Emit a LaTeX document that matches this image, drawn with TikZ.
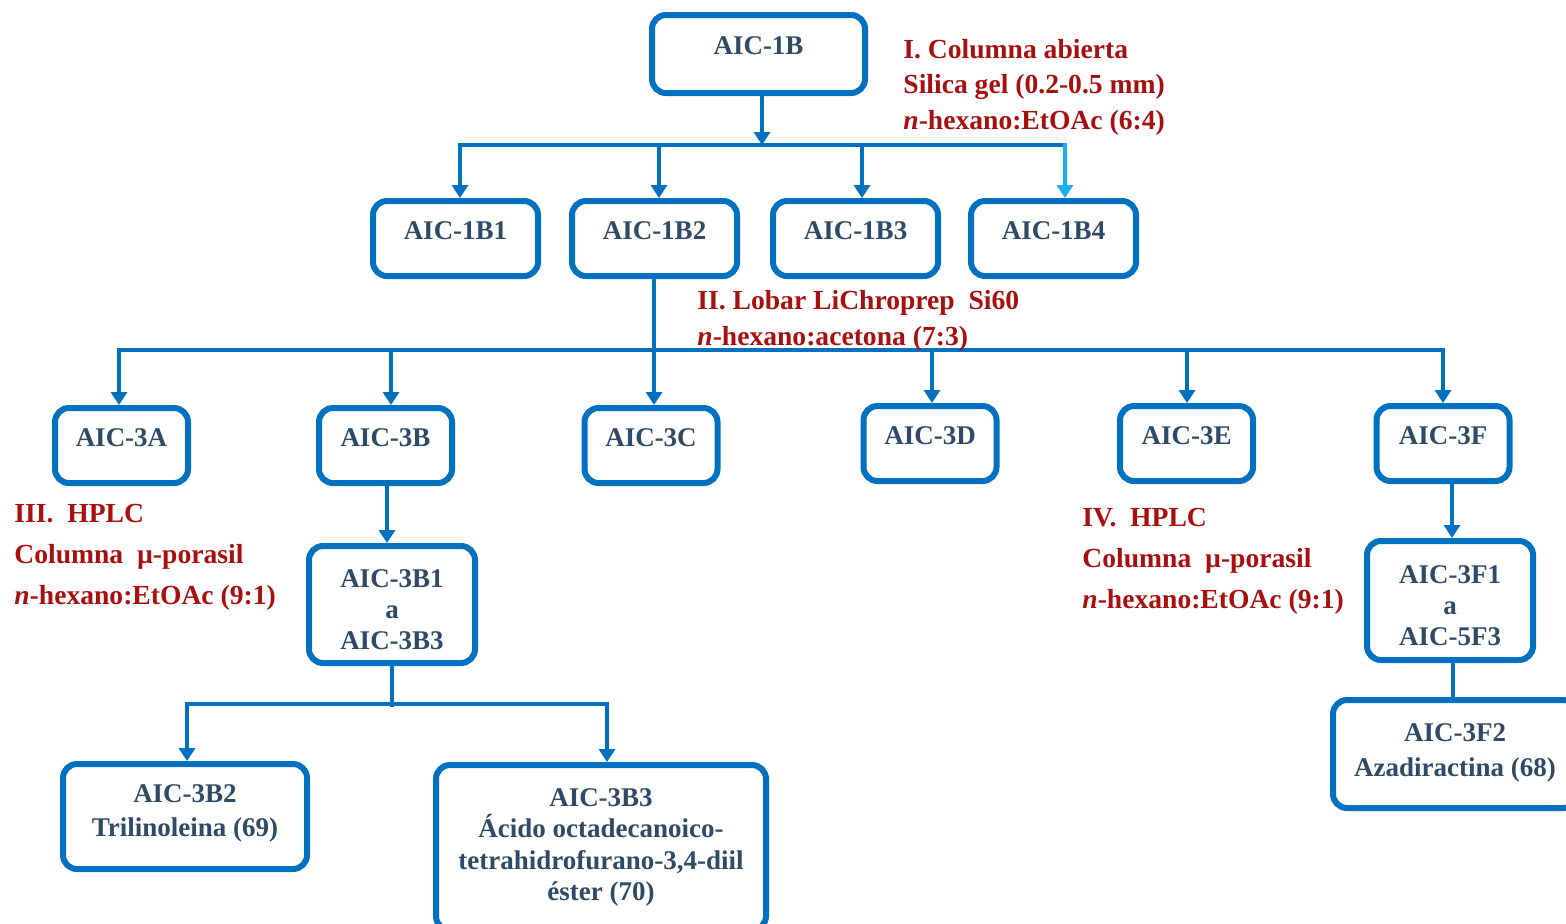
\documentclass[tikz,border=0pt]{standalone}
\usepackage{fontspec}
\setmainfont{Liberation Serif}
\usetikzlibrary{arrows.meta}

\definecolor{boxblue}{HTML}{0070C0}
\definecolor{lightblue}{HTML}{1AB0F0}
\definecolor{txtslate}{HTML}{2E4A66}
\definecolor{stepred}{HTML}{A81010}

\tikzset{
  box/.style={draw=boxblue, line width=3pt, rounded corners=7pt, inner sep=0pt, fill=white},
  boxtext/.style={text=txtslate, font=\bfseries\fontsize{13.5}{16}\selectfont, align=center, inner sep=0pt},
  note/.style={text=stepred, align=left, anchor=west, inner sep=0pt},
  link/.style={draw=boxblue, line width=2pt, line cap=rect},
  arr/.style={link, -{Triangle[width=8pt,length=6.5pt]}},
}

\begin{document}
\begin{tikzpicture}[x=0.5pt, y=-0.5pt]
\useasboundingbox (0,0) rectangle (1566,923);

% ---- top sample ----
\node[box, minimum width=106.5pt, minimum height=39pt] (n1B) at (758.5,54) {};
\node[boxtext] (t1B) at (758.5,46) {AIC-1B};

% ---- first fractionation ----
\foreach \nm/\cx in {1B1/455.5, 1B2/654.5, 1B3/855.5, 1B4/1053.5} {
  \node[box, minimum width=82.5pt, minimum height=37.5pt] (n\nm) at (\cx,238.5) {};
  \node[boxtext] (t\nm) at (\cx,231) {AIC-\nm};
}

% ---- second fractionation ----
\foreach \nm/\cx/\cy/\ty in {3A/121.5/445.5/438, 3B/385.5/445.5/438, 3C/651/445.5/438,
                             3D/930/443.5/436, 3E/1186.5/443.5/436, 3F/1443/443.5/436} {
  \node[box, minimum width=66.5pt, minimum height=37.5pt] (n\nm) at (\cx,\cy) {};
  \node[boxtext] (t\nm) at (\cx,\ty) {AIC-\nm};
}

% ---- HPLC subfractions ----
\node[box, minimum width=83pt, minimum height=58.5pt] (n3B1) at (392,604.5) {};
\node[boxtext, font=\bfseries\fontsize{13.5}{15.5}\selectfont] (t3B1) at (392,610) {AIC-3B1\\a\\AIC-3B3};

\node[box, minimum width=83pt, minimum height=59.5pt] (n3F1) at (1450,600.5) {};
\node[boxtext, font=\bfseries\fontsize{13.5}{15.5}\selectfont] (t3F1) at (1450,605.5) {AIC-3F1\\a\\AIC-5F3};

% ---- isolated compounds ----
\node[box, minimum width=122pt, minimum height=52.5pt] (n3B2) at (185,816.5) {};
\node[boxtext, font=\bfseries\fontsize{13.5}{17}\selectfont] (t3B2) at (185,813.5) {AIC-3B2\\Trilinoleina (69)};

\node[box, minimum width=165pt, minimum height=82.5pt] (n3B3) at (601,847.5) {};
\node[boxtext, font=\bfseries\fontsize{13.5}{15.8}\selectfont] (t3B3) at (601,847.5) {AIC-3B3\\Ácido octadecanoico-\\tetrahidrofurano-3,4-diil\\éster (70)};

\node[box, minimum width=122pt, minimum height=54pt] (n3F2) at (1455,754) {};
\node[boxtext, font=\bfseries\fontsize{13.5}{17.5}\selectfont] (t3F2) at (1455,752.5) {AIC-3F2\\Azadiractina (68)};

% ---- connectors: AIC-1B ----
\coordinate (j1) at (762,145);
\coordinate (b1a) at (460,145);
\coordinate (b1b) at (659,145);
\coordinate (b1c) at (862,145);
\coordinate (b1d) at (1065,145);
\draw[arr] (n1B.south -| j1) -- (j1);
\draw[link] (b1a) -- (b1d);
\draw[arr] (b1a) -- (b1a |- n1B1.north);
\draw[arr] (b1b) -- (b1b |- n1B2.north);
\draw[arr] (b1c) -- (b1c |- n1B3.north);
\draw[arr, draw=lightblue] (b1d) -- (b1d |- n1B4.north);

% ---- connectors: AIC-1B2 ----
\coordinate (j2) at (654,350);
\coordinate (b2a) at (119,350);
\coordinate (b2b) at (391,350);
\coordinate (b2d) at (932,350);
\coordinate (b2e) at (1187,350);
\coordinate (b2f) at (1443,350);
\draw[link] (b2a) -- (b2f);
\draw[arr] (n1B2.south -| j2) -- (n3C.north -| j2);
\draw[arr] (b2a) -- (b2a |- n3A.north);
\draw[arr] (b2b) -- (b2b |- n3B.north);
\draw[arr] (b2d) -- (b2d |- n3D.north);
\draw[arr] (b2e) -- (b2e |- n3E.north);
\draw[arr] (b2f) -- (b2f |- n3F.north);

% ---- connectors: AIC-3B ----
\coordinate (k1) at (387,500);
\draw[arr] (n3B.south -| k1) -- (n3B1.north -| k1);
\coordinate (j3) at (392,705);
\coordinate (b3a) at (187,704);
\coordinate (b3b) at (607,704);
\draw[link] (n3B1.south -| j3) -- (j3);
\draw[link] (b3a) -- (b3b);
\draw[arr] (b3a) -- (b3a |- n3B2.north);
\draw[arr] (b3b) -- (b3b |- n3B3.north);

% ---- connectors: AIC-3F ----
\coordinate (k2) at (1452,500);
\draw[arr] (n3F.south -| k2) -- (n3F1.north -| k2);
\coordinate (k3) at (1453,680);
\draw[link] (n3F1.south -| k3) -- (n3F2.north -| k3);

% ---- separation conditions ----
\node[note, font=\bfseries\fontsize{13.8}{17.75}\selectfont] (lab1) at (903,87)
  {I. Columna abierta\\Silica gel (0.2-0.5 mm)\\\textit{n}-hexano:EtOAc (6:4)};
\node[note, font=\bfseries\fontsize{13.8}{18}\selectfont] (lab2) at (697,321)
  {II. Lobar LiChroprep\ \ Si60\\\textit{n}-hexano:acetona (7:3)};
\node[note, font=\bfseries\fontsize{13.8}{20.5}\selectfont] (lab3) at (14,557)
  {III.\ \ HPLC\\Columna\ \ µ-porasil\\\textit{n}-hexano:EtOAc (9:1)};
\node[note, font=\bfseries\fontsize{13.8}{20.5}\selectfont] (lab4) at (1082,561)
  {IV.\ \ HPLC\\Columna\ \ µ-porasil\\\textit{n}-hexano:EtOAc (9:1)};
\end{tikzpicture}
\end{document}
